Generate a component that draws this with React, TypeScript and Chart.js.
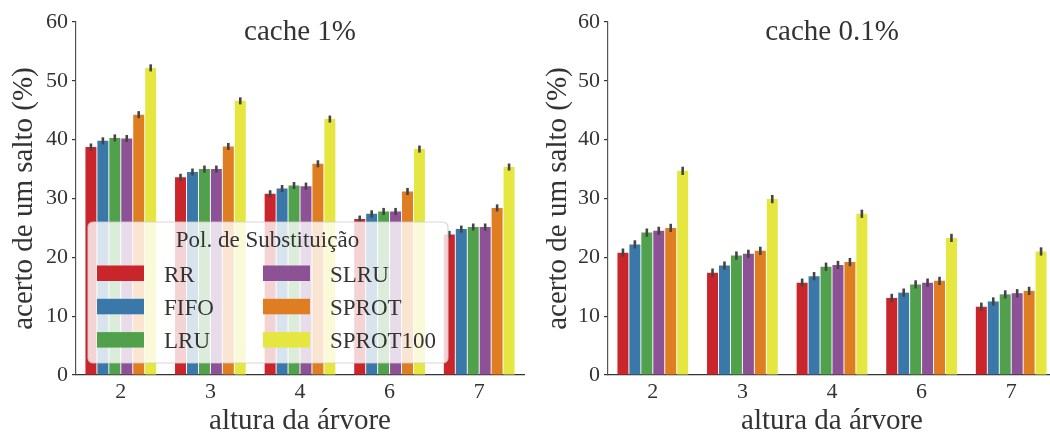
import React, { useEffect, useRef } from 'react';
import { Chart, registerables } from 'chart.js';

Chart.register(...registerables);

const FONT = "'Liberation Serif', 'Times New Roman', serif";
const TEXT = '#333333';

// ---- data ----
const categories = ['2', '3', '4', '6', '7'];
const seriesNames = ['RR', 'FIFO', 'LRU', 'SLRU', 'SPROT', 'SPROT100'];
const seriesColors = ['#c9252b', '#3a78a9', '#51a14c', '#8d5196', '#df7d22', '#e6e640'];
const yTicks = [0, 10, 20, 30, 40, 50, 60];

// cache 1%
const RR_1 = [38.75, 33.6, 30.8, 26.5, 23.9];
const FIFO_1 = [39.8, 34.5, 31.7, 27.4, 24.8];
const LRU_1 = [40.3, 35.0, 32.2, 27.8, 25.15];
const SLRU_1 = [40.2, 35.0, 32.1, 27.8, 25.15];
const SPROT_1 = [44.25, 38.85, 35.9, 31.2, 28.4];
const SPROT100_1 = [52.2, 46.6, 43.5, 38.4, 35.35];
const ERR_1 = 0.6;

// cache 0.1%
const RR_01 = [20.8, 17.4, 15.7, 13.1, 11.6];
const FIFO_01 = [22.2, 18.6, 16.8, 14.0, 12.5];
const LRU_01 = [24.2, 20.3, 18.4, 15.4, 13.7];
const SLRU_01 = [24.5, 20.6, 18.7, 15.7, 13.9];
const SPROT_01 = [25.0, 21.1, 19.2, 16.0, 14.3];
const SPROT100_01 = [34.7, 29.9, 27.4, 23.3, 21.0];
const ERR_01 = 0.7;

const values1 = [RR_1, FIFO_1, LRU_1, SLRU_1, SPROT_1, SPROT100_1];
const values01 = [RR_01, FIFO_01, LRU_01, SLRU_01, SPROT_01, SPROT100_01];

const decorPlugin = {
  id: 'decor',
  afterDatasetsDraw(chart: any, _args: any, opts: any) {
    const ctx = chart.ctx;
    const ys = chart.scales.y;
    const area = chart.chartArea;
    // error bars
    ctx.save();
    ctx.strokeStyle = '#444444';
    ctx.lineWidth = 2.6;
    ctx.lineCap = 'butt';
    chart.data.datasets.forEach((ds: any, i: number) => {
      const meta = chart.getDatasetMeta(i);
      meta.data.forEach((el: any, j: number) => {
        const v = ds.data[j];
        ctx.beginPath();
        ctx.moveTo(el.x, ys.getPixelForValue(v - opts.err));
        ctx.lineTo(el.x, ys.getPixelForValue(v + opts.err));
        ctx.stroke();
      });
    });
    ctx.restore();

    // legend
    if (opts.legend) {
      const L = opts.legend;
      ctx.save();
      ctx.beginPath();
      ctx.roundRect(L.x, L.y, L.w, L.h, 5);
      ctx.fillStyle = 'rgba(255,255,255,0.8)';
      ctx.fill();
      ctx.strokeStyle = 'rgba(204,204,204,0.8)';
      ctx.lineWidth = 1.2;
      ctx.stroke();
      ctx.fillStyle = TEXT;
      ctx.font = `23px ${FONT}`;
      ctx.textAlign = 'center';
      ctx.textBaseline = 'alphabetic';
      ctx.fillText(L.title, L.titleX, L.titleY);
      ctx.textAlign = 'left';
      chart.data.datasets.forEach((ds: any, i: number) => {
        const col = Math.floor(i / 3);
        const row = i % 3;
        const base = L.row0 + row * L.pitch;
        const sx = L.colSwatch[col];
        ctx.fillStyle = ds.backgroundColor;
        ctx.fillRect(sx, base - 16, 47, 15.5);
        ctx.fillStyle = TEXT;
        ctx.fillText(ds.label, L.colText[col], base);
      });
      ctx.restore();
    }

    // title
    ctx.save();
    ctx.fillStyle = TEXT;
    ctx.font = `29px ${FONT}`;
    ctx.textAlign = 'center';
    ctx.textBaseline = 'alphabetic';
    ctx.fillText(opts.title, (area.left + area.right) / 2, 40);
    ctx.restore();
  },
};

type Props = {
  values: number[][];
  err: number;
  title: string;
  legend: any;
  left: number;
  width: number;
  axisWidth: number;
  padRight: number;
  yTitlePad: number;
};

function BarPanel(p: Props) {
  const ref = useRef<HTMLCanvasElement | null>(null);
  useEffect(() => {
    if (!ref.current) return;
    const chart = new Chart(ref.current, {
      type: 'bar',
      data: {
        labels: categories,
        datasets: seriesNames.map((name, i) => ({
          label: name,
          data: p.values[i],
          backgroundColor: seriesColors[i],
          borderWidth: 0,
          categoryPercentage: 0.8,
          barPercentage: 0.92,
        })),
      },
      options: {
        responsive: false,
        animation: false,
        events: [],
        layout: { padding: { left: 0, right: p.padRight, top: 22, bottom: 0 } },
        plugins: {
          legend: { display: false },
          tooltip: { enabled: false },
          title: { display: false },
          decor: { err: p.err, title: p.title, legend: p.legend },
        } as any,
        scales: {
          x: {
            type: 'category',
            grid: { display: false, drawTicks: false },
            border: { display: true, color: TEXT, width: 1.3 },
            ticks: { color: TEXT, font: { family: FONT, size: 22, lineHeight: 1 }, padding: 6 },
            title: {
              display: true,
              text: 'altura da árvore',
              color: TEXT,
              font: { family: FONT, size: 29, lineHeight: 0.9 },
              padding: { top: 0, bottom: 0 },
            },
            afterFit: (s: any) => {
              s.height = 59;
            },
          },
          y: {
            min: 0,
            max: 60,
            afterBuildTicks: (s: any) => {
              s.ticks = yTicks.map((v) => ({ value: v }));
            },
            grid: {
              display: true,
              drawOnChartArea: false,
              drawTicks: true,
              tickLength: 4,
              color: TEXT,
              lineWidth: 1.2,
            },
            border: { display: true, color: '#555555', width: 1.2 },
            ticks: { color: TEXT, font: { family: FONT, size: 22, lineHeight: 1 }, padding: 4 },
            title: {
              display: true,
              text: 'acerto de um salto (%)',
              color: TEXT,
              font: { family: FONT, size: 29, lineHeight: 1 },
              padding: { top: p.yTitlePad, bottom: 0 },
            },
            afterFit: (s: any) => {
              s.width = p.axisWidth;
            },
          },
        },
      },
      plugins: [decorPlugin],
    });
    return () => chart.destroy();
  }, []);
  return (
    <div style={{ position: 'absolute', left: p.left, top: 0, width: p.width, height: 434 }}>
      <canvas ref={ref} width={p.width} height={434} style={{ display: 'block' }} />
    </div>
  );
}

const legendSpec = {
  x: 88,
  y: 222,
  w: 360,
  h: 141,
  title: 'Pol. de Substituição',
  titleX: 267.5,
  titleY: 247,
  row0: 281.5,
  pitch: 33.3,
  colSwatch: [97, 263],
  colText: [164, 330],
};

export default function App() {
  return (
    <div
      style={{
        position: 'fixed',
        left: 0,
        top: 0,
        width: 1050,
        height: 434,
        overflow: 'hidden',
        background: '#ffffff',
      }}
    >
      <BarPanel
        values={values1}
        err={ERR_1}
        title="cache 1%"
        legend={legendSpec}
        left={0}
        width={530}
        axisWidth={76}
        padRight={6}
        yTitlePad={10}
      />
      <BarPanel
        values={values01}
        err={ERR_01}
        title="cache 0.1%"
        legend={null}
        left={530}
        width={530}
        axisWidth={78}
        padRight={4}
        yTitlePad={14}
      />
    </div>
  );
}
